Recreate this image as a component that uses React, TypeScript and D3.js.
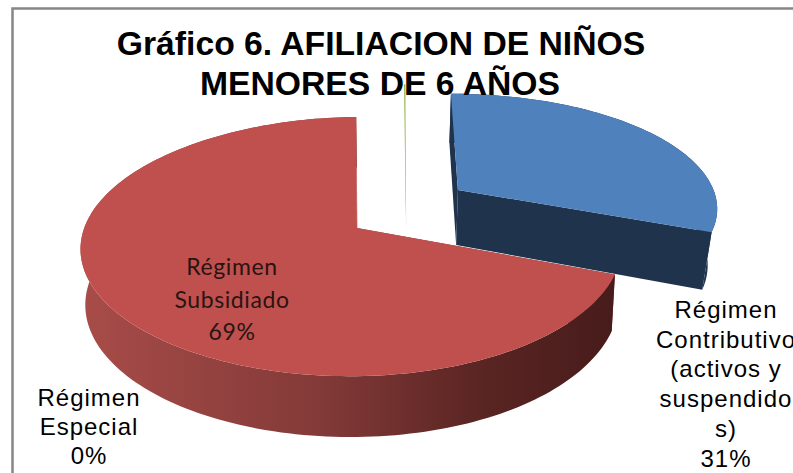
import React from "react";
import * as d3 from "d3";

const categories = ["Régimen Contributivo", "Régimen Subsidiado", "Régimen Especial"];
const values = [31, 69, 0.1];
const topColors = ["#4f81bd", "#c0504d", "url(#greenTop)"];
const sideColors = ["#1f334d", "url(#redSide)", "#6f7f50"];
const titleLines = ["Gráfico 6. AFILIACION DE NIÑOS", "MENORES DE 6 AÑOS"];
const outerLabels = [
  { lines: ["Régimen", "Contributivo", "(activos y", "suspendido", "s)", "31%"], x: 726, y0: 318, dy: 29.7 },
  { lines: ["Régimen", "Especial", "0%"], x: 89, y0: 406, dy: 29 },
];
const innerLines = ["Régimen", "Subsidiado", "69%"];

// per-slice 3D geometry of the exploded pie
const explodeU = [0.378, 0, 0.184];
const explodeV = [-0.3317, 0, 0.025];
const sliceRx = [276, 268, 268];
const sliceRy = [120, 127, 168];
const sliceRyLow = [127.6, 132, 132];
const sliceCyLow = [285.4, 283, 283];
const sliceLow = [0.97, 0.985, 0.985];
const sliceRot = [0.02, 0, 0.02];

const W = 793, H = 473;
const cx = 357, vx = 400, k = 0.143, yaw = 0.0175;
const cyTop = 228;

type P = [number, number];
const proj = (i: number, u: number, v: number, low: boolean): P => {
  const w = 1 - k * v;
  const s = low ? sliceLow[i] : 1;
  const x = vx + (s * (sliceRx[i] * (u / (1 + yaw * u)) + cx - vx)) / w;
  const y = low ? sliceCyLow[i] + (sliceRyLow[i] * v) / w : cyTop + (sliceRy[i] * v) / w;
  return [x, y];
};

const pie = d3.pie<number>().sort(null).startAngle(-0.02).endAngle(2 * Math.PI - 0.02);
const arcs = pie(values);
const lineGen = d3.line<P>();

const rim = (i: number, t0: number, low: boolean): P => {
  const t = t0 + sliceRot[i];
  return proj(i, explodeU[i] + Math.sin(t), explodeV[i] - Math.cos(t), low);
};
const arcPts = (a: number, b: number, i: number, low: boolean): P[] => {
  const n = Math.max(2, Math.ceil((b - a) * 40));
  return d3.range(n + 1).map((j) => rim(i, a + ((b - a) * j) / n, low));
};
const apex = (i: number, low: boolean) => proj(i, explodeU[i], explodeV[i], low);

const topPath = (i: number) => {
  const { startAngle: a, endAngle: b } = arcs[i];
  return lineGen([apex(i, false), ...arcPts(a, b, i, false)]) + "Z";
};
const rimPath = (i: number) => {
  const { startAngle: a, endAngle: b } = arcs[i];
  return lineGen([...arcPts(a, b, i, false), ...arcPts(a, b, i, true).reverse()]) + "Z";
};
const wallPath = (i: number, t: number) =>
  lineGen([apex(i, false), rim(i, t, false), rim(i, t, true), apex(i, true)]) + "Z";

const gradX = d3.scaleLinear().domain([0, 1]).range([80, 612]);
const gradStops = [
  { o: 0, c: "#a84c49" },
  { o: 0.45, c: "#833a38" },
  { o: 0.75, c: "#5a2523" },
  { o: 1, c: "#471c1b" },
];

export default function App() {
  const order = [2, 0, 1];
  return (
    <svg width={W} height={H} style={{ position: "absolute", left: 0, top: 0, background: "#fff" }}>
      <defs>
        <linearGradient id="redSide" gradientUnits="userSpaceOnUse" x1={gradX(0)} x2={gradX(1)} y1={0} y2={0}>
          {gradStops.map((s) => (
            <stop key={s.o} offset={s.o} stopColor={s.c} />
          ))}
        </linearGradient>
        <linearGradient id="greenTop" gradientUnits="userSpaceOnUse" x1={0} x2={0} y1={90} y2={232}>
          <stop offset={0} stopColor="#9bbb59" />
          <stop offset={0.5} stopColor="#9bbb59" />
          <stop offset={0.8} stopColor="#6f7f50" />
          <stop offset={1} stopColor="#c8ccbc" />
        </linearGradient>
      </defs>
      <path d={`M12.5,${H}V8.5H${W}`} fill="none" stroke="#868686" strokeWidth={2.5} />
      {order.map((i) => (
        <g key={categories[i]}>
          {i !== 2 && (
            <>
              <path d={wallPath(i, arcs[i].startAngle)} fill={i === 0 ? "#1f334d" : "#7a3432"} />
              <path d={wallPath(i, arcs[i].endAngle)} fill={i === 0 ? "#1f334d" : "#7a3432"} />
              <path d={rimPath(i)} fill={sideColors[i]} />
            </>
          )}
          <path d={topPath(i)} fill={topColors[i]} />
        </g>
      ))}
      <g fontFamily="'Liberation Sans', Arial, sans-serif" fontWeight="bold" fontSize={33.7} textAnchor="middle" fill="#000">
        <text x={381} y={55}>{titleLines[0]}</text>
        <text x={380} y={95}>{titleLines[1]}</text>
      </g>
      <g fontFamily="Lato, sans-serif" fontSize={23} letterSpacing={0.6} textAnchor="middle" fill="#2a1413">
        {innerLines.map((t, j) => (
          <text key={t} x={232} y={275 + j * 32.5}>{t}</text>
        ))}
      </g>
      <g fontFamily="'Liberation Sans', Arial, sans-serif" fontSize={24} letterSpacing={1} textAnchor="middle" fill="#000">
        {outerLabels.map((l) =>
          l.lines.map((t, j) => (
            <text key={t} x={l.x} y={l.y0 + j * l.dy}>{t}</text>
          ))
        )}
      </g>
    </svg>
  );
}
